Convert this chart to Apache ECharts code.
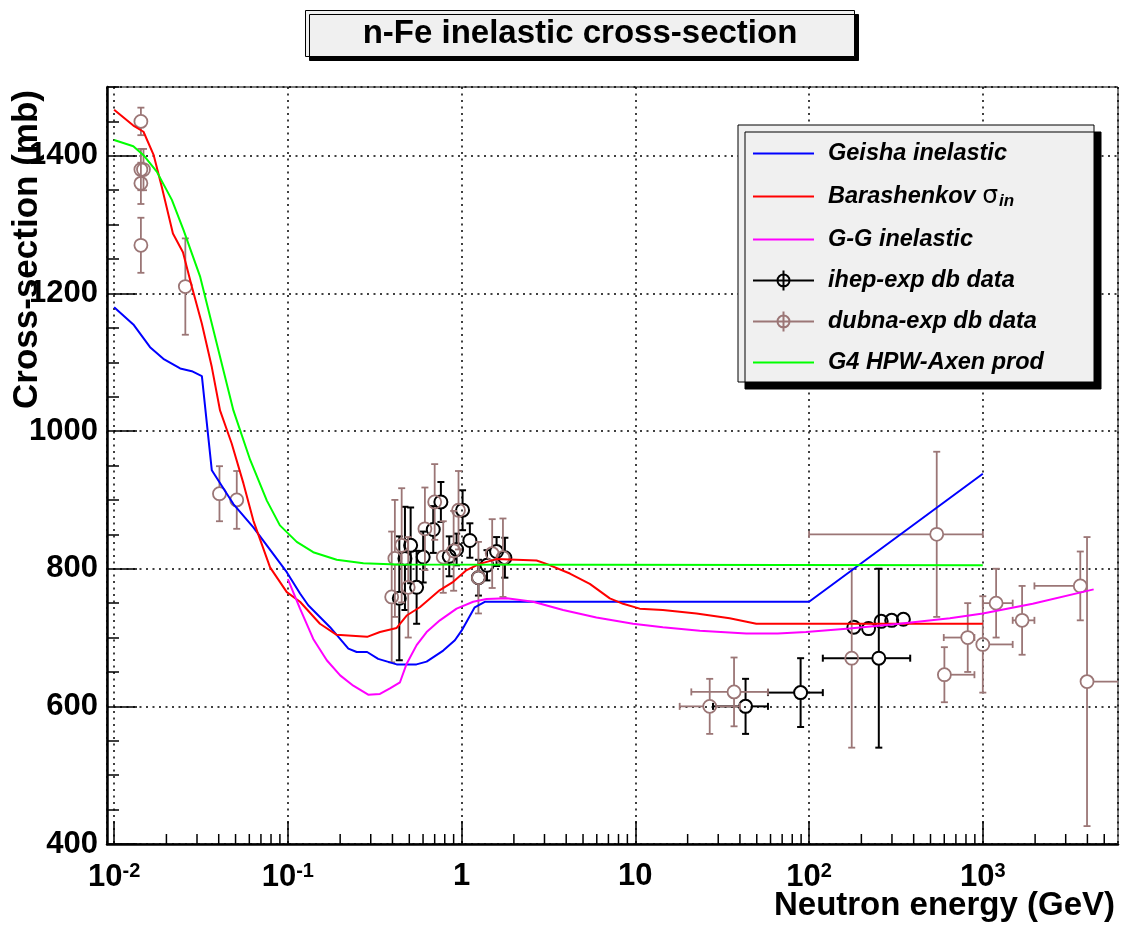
<!DOCTYPE html>
<html>
<head>
<meta charset="utf-8">
<script src="https://cdn.jsdelivr.net/npm/echarts@6/dist/echarts.min.js"></script>
<style>
  html, body { margin: 0; padding: 0; background: #fff; }
  #chart { width: 1122px; height: 925px; }
</style>
</head>
<body>
<div id="chart"></div>
<script>
// curves: energy (GeV) and cross-section (mb)
var geishaE = [0.01, 0.0129, 0.0161, 0.0192, 0.024, 0.028, 0.032, 0.0365, 0.0486, 0.0633, 0.0986, 0.1175, 0.131, 0.175, 0.223, 0.249, 0.286, 0.331, 0.423, 0.55, 0.629, 0.784, 0.915, 1.0, 1.19, 1.36, 10, 100, 1000]
var geishaS = [1180, 1155, 1122, 1105, 1091, 1087, 1080, 943, 894, 860, 795, 764, 747, 715, 684, 679, 679, 669, 661, 661, 665, 681, 696, 710, 744, 752, 752, 752, 938]

var baraE = [0.01, 0.0129, 0.01476, 0.0169, 0.0188, 0.0218, 0.0249, 0.028, 0.032, 0.0365, 0.0407, 0.0475, 0.0555, 0.0633, 0.079, 0.0986, 0.1175, 0.153, 0.191, 0.286, 0.339, 0.423, 0.483, 0.575, 0.75, 0.895, 1.069, 1.27, 1.59, 2.7, 3.08, 4.2, 5.47, 7.13, 8.5, 10.6, 14.4, 22.5, 34.9, 49.7, 1000]
var baraS = [1467, 1444, 1435, 1401, 1355, 1287, 1260, 1210, 1156, 1093, 1030, 982, 924, 870, 802, 766, 752, 720, 704, 701, 708, 714, 732, 744, 769, 781, 798, 807, 814, 812, 807, 793, 778, 757, 749, 742, 740, 735, 728, 720, 720]

var ggE = [0.1, 0.1175, 0.14, 0.1675, 0.2, 0.238, 0.29, 0.339, 0.387, 0.442, 0.483, 0.551, 0.629, 0.75, 0.936, 1.166, 1.39, 1.82, 2.58, 3.84, 5.97, 9.7, 14.4, 23.5, 43.5, 66, 96, 171, 331, 646, 1000, 1937, 4345]
var ggS = [785, 742, 698, 667, 645, 630, 617, 618, 626, 635, 662, 689, 708, 725, 742, 752, 756, 757, 752, 740, 729, 720, 715, 710, 706, 706, 708, 713, 720, 728, 735, 749, 770]

var g4E = [0.01, 0.0129, 0.01476, 0.0176, 0.0215, 0.0251, 0.0313, 0.039, 0.0486, 0.0607, 0.0757, 0.09, 0.1125, 0.14, 0.191, 0.272, 0.423, 1000]
var g4S = [1423, 1414, 1401, 1377, 1336, 1292, 1224, 1127, 1030, 958, 899, 863, 839, 824, 813, 808, 806, 805]

// measured points: energy, sigma, sigma error, energy low edge, energy high edge (0 = no x error)
var ihepE   = [0.438, 0.472, 0.509, 0.551, 0.601, 0.687, 0.76, 0.849, 0.936, 1.013, 1.116, 1.25, 1.40, 1.59, 1.775, 43.1, 89.4, 252, 181, 220, 260, 299, 349]
var ihepS   = [757, 815, 834, 773, 817, 857, 897, 818, 828, 885, 841, 787, 805, 825, 816, 600, 620, 670, 715, 713, 723.5, 725, 726.5]
var ihepErr = [90, 75, 55, 53, 37, 34, 29, 29, 23, 29, 25, 26, 22, 21, 29, 40, 50, 130, 0, 0, 0, 0, 0]
var ihepXlo = [0, 0, 0, 0, 0, 0, 0, 0, 0, 0, 0, 0, 0, 0, 0, 28, 58, 120, 0, 0, 0, 0, 0]
var ihepXhi = [0, 0, 0, 0, 0, 0, 0, 0, 0, 0, 0, 0, 0, 0, 0, 58, 120, 382, 0, 0, 0, 0, 0]

var dubnaE   = [0.01426, 0.01426, 0.01476, 0.01426, 0.01426, 0.0257, 0.0404, 0.0508, 0.396, 0.413, 0.452, 0.493, 0.615, 0.70, 0.784, 0.90, 0.96, 1.25, 1.50, 1.73, 26.8, 37, 176, 543, 601, 819, 1000, 1193, 1683, 3640, 3980]
var dubnaS   = [1450, 1380, 1380, 1360, 1270, 1210, 909, 900, 759, 815, 834, 773, 858, 897, 817, 826, 885, 787, 822, 816, 600, 621, 670, 850, 646, 700, 690, 750, 725, 775, 636]
var dubnaErr = [20, 30, 30, 30, 40, 70, 40, 42, 95, 85, 83, 73, 60, 55, 52, 58, 57, 52, 50, 57, 40, 50, 130, 120, 40, 50, 70, 50, 50, 50, 210]
var dubnaXlo = [0, 0, 0, 0, 0, 0, 0, 0, 0, 0, 0, 0, 0, 0, 0, 0, 0, 0, 0, 0, 18, 21, 0, 100, 0, 596, 0, 1000, 1486, 1982, 0]
var dubnaXhi = [0, 0, 0, 0, 0, 0, 0, 0, 0, 0, 0, 0, 0, 0, 0, 0, 0, 0, 0, 0, 40, 58, 0, 1000, 895, 895, 1486, 1486, 1982, 0, 8000]

var seriesNames = ['Geisha inelastic', 'Barashenkov σin', 'G-G inelastic', 'ihep-exp db data', 'dubna-exp db data', 'G4 HPW-Axen prod']

var FONT = '"Liberation Sans", Arial, Helvetica, sans-serif'
var BROWN = '#9b7676'

function pairs(xs, ys) {
  var out = []
  for (var i = 0; i < xs.length; i++) out.push([xs[i], ys[i]])
  return out
}

function points(xs, ys, err, xlo, xhi) {
  var out = []
  for (var i = 0; i < xs.length; i++) out.push([xs[i], ys[i], err[i], xlo[i], xhi[i]])
  return out
}

// minor ticks of the log axis at 2..9 of each decade
var minorTicks = []
for (var dec = -2; dec <= 3; dec++) {
  for (var k = 2; k <= 9; k++) {
    var v = k * Math.pow(10, dec)
    if (v < 6000) minorTicks.push([v, 400])
  }
}

function errorBars(color, lw) {
  var r = 6.5
  var cap = 3.5
  return function(params, api) {
    var E = api.value(0)
    var S = api.value(1)
    var ey = api.value(2)
    var xl = api.value(3)
    var xh = api.value(4)
    var c = api.coord([E, S])
    var kids = []
    function seg(x1, y1, x2, y2) {
      kids.push({ type: 'line', shape: { x1: x1, y1: y1, x2: x2, y2: y2 }, style: { stroke: color, lineWidth: lw } })
    }
    if (ey > 0) {
      var top = api.coord([E, S + ey])[1]
      var bot = api.coord([E, S - ey])[1]
      if (c[1] - top > r) { seg(c[0], c[1] - r, c[0], top); seg(c[0] - cap, top, c[0] + cap, top) }
      if (bot - c[1] > r) { seg(c[0], c[1] + r, c[0], bot); seg(c[0] - cap, bot, c[0] + cap, bot) }
    }
    if (xl > 0 && xl < E) {
      var lx = api.coord([xl, S])[0]
      if (c[0] - lx > r) { seg(c[0] - r, c[1], lx, c[1]); seg(lx, c[1] - cap, lx, c[1] + cap) }
    }
    if (xh > E) {
      var rx = api.coord([xh, S])[0]
      if (rx - c[0] > r) { seg(c[0] + r, c[1], rx, c[1]); seg(rx, c[1] - cap, rx, c[1] + cap) }
    }
    kids.push({ type: 'circle', shape: { cx: c[0], cy: c[1], r: r }, style: { fill: 'none', stroke: color, lineWidth: lw } })
    return { type: 'group', children: kids }
  }
}

var lineIcon = 'path://M0,0L61,0L61,2L0,2Z'
var errIcon = 'path://M0,10L61,10M30.5,0L30.5,20M36.5,10A6,6,0,1,1,24.5,10A6,6,0,1,1,36.5,10'

var chart = echarts.init(document.getElementById('chart'), null, { renderer: 'canvas' })

var dotted = { color: '#000', width: 1.5, type: [2, 4.5] }

chart.setOption({
  backgroundColor: '#fff',
  animation: false,
  title: {
    text: '{t|n-Fe inelastic cross-section}',
    left: 305,
    top: 10,
    padding: [4, 10],
    backgroundColor: '#f0f0f0',
    borderColor: '#000',
    borderWidth: 1,
    shadowColor: '#000',
    shadowBlur: 0,
    shadowOffsetX: 4,
    shadowOffsetY: 4,
    textStyle: {
      rich: {
        t: { width: 530, height: 39, lineHeight: 39, align: 'center', fontSize: 33, fontWeight: 'bold', fontFamily: FONT, color: '#000' }
      }
    }
  },
  legend: {
    orient: 'vertical',
    left: 738,
    top: 125,
    padding: [17, 26, 8, 14],
    itemWidth: 61,
    itemHeight: 20,
    itemGap: 18,
    backgroundColor: '#f0f0f0',
    borderColor: '#000',
    borderWidth: 1,
    shadowColor: '#000',
    shadowBlur: 0,
    shadowOffsetX: 7,
    shadowOffsetY: 7,
    selectedMode: false,
    data: [
      { name: seriesNames[0], icon: lineIcon, itemStyle: { color: '#0000ff' } },
      { name: seriesNames[1], icon: lineIcon, itemStyle: { color: '#ff0000' } },
      { name: seriesNames[2], icon: lineIcon, itemStyle: { color: '#ff00ff' } },
      { name: seriesNames[3], icon: errIcon, itemStyle: { color: 'rgba(0,0,0,0)', borderColor: '#000', borderWidth: 2 } },
      { name: seriesNames[4], icon: errIcon, itemStyle: { color: 'rgba(0,0,0,0)', borderColor: BROWN, borderWidth: 2 } },
      { name: seriesNames[5], icon: lineIcon, itemStyle: { color: '#00ff00' } }
    ],
    formatter: function(name) {
      if (name === seriesNames[1]) return 'Barashenkov {s|σ}{sub|in}'
      return name
    },
    textStyle: {
      color: '#000',
      fontSize: 23.5,
      fontWeight: 'bold',
      fontStyle: 'italic',
      fontFamily: FONT,
      lineHeight: 23,
      width: 240,
      padding: [0, 0, 0, 9],
      rich: {
        s: { fontSize: 25, fontStyle: 'normal', fontWeight: 'normal', fontFamily: '"DejaVu Sans", sans-serif', color: '#000', lineHeight: 23 },
        sub: { fontSize: 17, fontStyle: 'italic', fontWeight: 'bold', fontFamily: FONT, color: '#000', lineHeight: 23, padding: [10, 0, 0, 1] }
      }
    }
  },
  grid: {
    left: 107,
    right: 4,
    top: 87,
    bottom: 81,
    containLabel: false,
    outerBoundsMode: 'none',
    show: true,
    borderColor: '#000',
    borderWidth: 1,
    backgroundColor: '#fff'
  },
  xAxis: {
    type: 'log',
    logBase: 10,
    min: 0.0091,
    max: 6000,
    name: '{n|Neutron energy (GeV)}',
    nameLocation: 'end',
    nameGap: -403,
    nameMoveOverlap: false,
    nameTextStyle: {
      verticalAlign: 'top',
      padding: [45, 0, 0, 0],
      rich: {
        n: { width: 400, align: 'right', fontSize: 33, fontWeight: 'bold', fontFamily: FONT, color: '#000' }
      }
    },
    axisLine: { lineStyle: { color: '#000', width: 2.5 } },
    axisTick: { inside: true, length: 23, lineStyle: { color: '#000', width: 1.5 } },
    axisLabel: {
      margin: 17,
      showMinLabel: false,
      showMaxLabel: false,
      color: '#000',
      fontSize: 31,
      fontWeight: 'bold',
      fontFamily: FONT,
      formatter: function(v) {
        var e = Math.round(Math.log10(v))
        if (e === 0) return '1'
        if (e === 1) return '10'
        return '10{sup|' + e + '}'
      },
      rich: {
        sup: { fontSize: 20, fontWeight: 'bold', fontFamily: FONT, color: '#000', verticalAlign: 'top', padding: [0, 0, 12, 0] }
      }
    },
    splitLine: { show: true, lineStyle: dotted }
  },
  yAxis: [{
    type: 'value',
    min: 400,
    max: 1500,
    interval: 200,
    name: 'Cross-section (mb)',
    nameLocation: 'middle',
    nameRotate: 90,
    nameGap: 62,
    nameMoveOverlap: false,
    nameTextStyle: { fontSize: 35, fontWeight: 'bold', fontFamily: FONT, color: '#000', padding: [0, 0, 0, 432] },
    axisLine: { show: true, lineStyle: { color: '#000', width: 2.5 } },
    axisTick: { inside: true, length: 30, lineStyle: { color: '#000', width: 1.5 } },
    axisLabel: {
      margin: 9,
      showMaxLabel: false,
      color: '#000',
      fontSize: 31,
      fontWeight: 'bold',
      fontFamily: FONT,
      formatter: function(v) { return String(v) }
    },
    splitLine: { show: true, lineStyle: dotted }
  }, {
    type: 'value',
    position: 'left',
    offset: 0,
    min: 400,
    max: 1500,
    interval: 50,
    axisLine: { show: false },
    axisTick: { inside: true, length: 12, lineStyle: { color: '#000', width: 1.5 } },
    axisLabel: { show: false },
    splitLine: { show: false }
  }],
  series: [
    {
      name: 'minor ticks',
      type: 'custom',
      silent: true,
      data: minorTicks,
      renderItem: function(params, api) {
        var p = api.coord([api.value(0), api.value(1)])
        return { type: 'line', shape: { x1: p[0], y1: p[1], x2: p[0], y2: p[1] - 10 }, style: { stroke: '#000', lineWidth: 1.5 } }
      },
      z: 3
    },
    { name: seriesNames[0], type: 'line', data: pairs(geishaE, geishaS), symbol: 'none', color: '#0000ff', lineStyle: { width: 2, color: '#0000ff' } },
    { name: seriesNames[1], type: 'line', data: pairs(baraE, baraS), symbol: 'none', color: '#ff0000', lineStyle: { width: 2, color: '#ff0000' } },
    { name: seriesNames[2], type: 'line', data: pairs(ggE, ggS), symbol: 'none', color: '#ff00ff', lineStyle: { width: 2, color: '#ff00ff' } },
    { name: seriesNames[3], type: 'custom', clip: true, color: '#000', data: points(ihepE, ihepS, ihepErr, ihepXlo, ihepXhi), renderItem: errorBars('#000', 2) },
    { name: seriesNames[4], type: 'custom', clip: true, color: BROWN, data: points(dubnaE, dubnaS, dubnaErr, dubnaXlo, dubnaXhi), renderItem: errorBars(BROWN, 1.8) },
    { name: seriesNames[5], type: 'line', data: pairs(g4E, g4S), symbol: 'none', color: '#00ff00', lineStyle: { width: 2, color: '#00ff00' } }
  ]
})
</script>
</body>
</html>
